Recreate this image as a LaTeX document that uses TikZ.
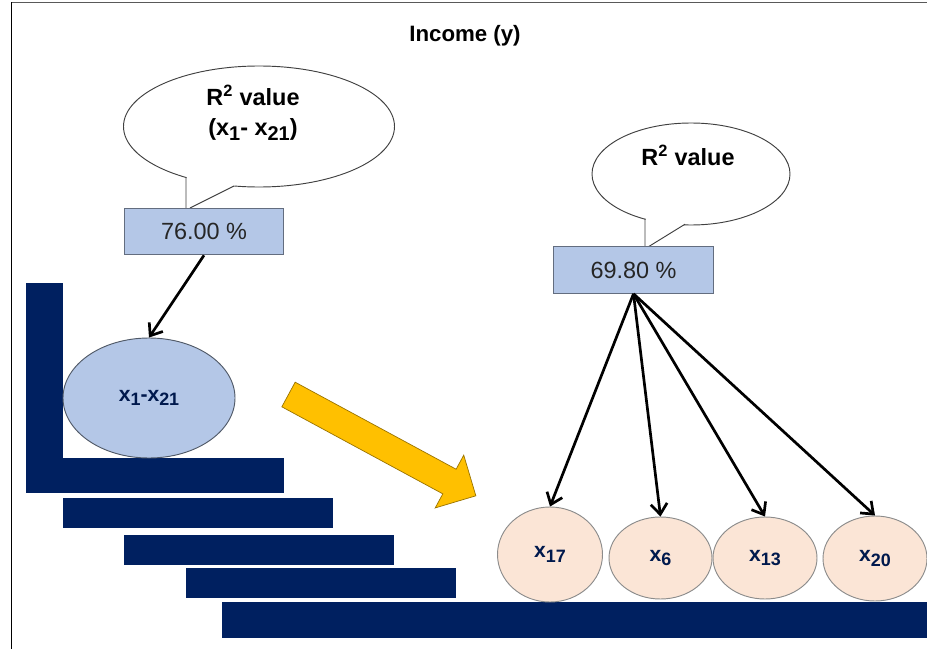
\documentclass[tikz,border=0pt]{standalone}
\usepackage{fontspec}
\setmainfont{Liberation Sans}
\usepackage{graphicx}
\usetikzlibrary{shapes.geometric, arrows.meta}
\definecolor{barblue}{HTML}{002060}
\definecolor{boxblue}{HTML}{B4C7E7}
\definecolor{peach}{HTML}{FBE5D6}
\definecolor{gold}{HTML}{FFC000}
\newcommand{\lo}[1]{\raisebox{-.4ex}{\scalebox{.85}{#1}}}

\begin{document}
\begin{tikzpicture}[x=0.03cm, y=-0.03cm, line width=.8pt,
    wert/.style={draw=boxblue!55!black, fill=boxblue, inner sep=0pt,
        minimum width=4.78cm, minimum height=1.4cm, text=black!85,
        font=\fontsize{20}{22}\selectfont},
    blase/.style={ellipse, draw=black!75, fill=white, inner sep=0pt},
    kreis/.style={ellipse, draw=black!45, fill=peach, inner sep=0pt,
        text=barblue!80!black, font=\bfseries\fontsize{18}{20}\selectfont},
    pfeil/.style={-{Straight Barb[length=9pt, width=14pt]}, line width=2.3pt}]
    \useasboundingbox (0,0) rectangle (927,649);

    % Rahmen.
    \draw[line width=1.5pt, black!65] (11,2.5) -- (927,2.5);
    \draw[line width=1pt] (11.7,2.5) -- (11.7,649);

    % Treppe.
    \foreach \xa/\ya/\xb/\yb in {26/283/63/458, 26/458/284/493, 63/498/333/528,
        124/535/394/565, 186/568/456/598, 222/602/927/638}
    {
        \fill[barblue] (\xa,\ya) rectangle (\xb,\yb);
    }

    % Titel.
    \node[font=\bfseries\fontsize{19}{21}\selectfont] (titel) at (465,36) {Income (y)};

    % Sprechblasen.
    \node[blase, minimum width=8.13cm, minimum height=3.63cm] (blaseL) at (259,126.5) {};
    \fill[white] (186.6,176) -- (186.6,208) -- (190,208) -- (235,185) -- cycle;
    \draw[black!75] (186,177.4) -- (186,208) (190,208) -- (234,186);
    \node[blase, minimum width=5.94cm, minimum height=3.06cm] (blaseR) at (691,174) {};
    \fill[white] (645.6,217) -- (645.6,247) -- (648,247) -- (686,223.4) -- cycle;
    \draw[black!75] (645,218.6) -- (645,247) (648,247) -- (685,224.2);

    \node[font=\bfseries\fontsize{20}{26}\selectfont, align=center] (textL) at (253,113)
        {R\textsuperscript{2} value\\(x\lo{1}- x\lo{21})};
    \node[font=\bfseries\fontsize{20}{26}\selectfont] (textR) at (688,155) {R\textsuperscript{2} value};

    % Werte.
    \node[wert] (wertL) at (204,231.5) {76.00 \%};
    \node[wert] (wertR) at (633.5,270) {69.80 \%};

    % Variablen.
    \node[kreis, fill=boxblue, draw=boxblue!45!black, minimum width=5.16cm,
        minimum height=3.6cm] (alle) at (149,398) {x\lo{1}-x\lo{21}};
    \draw[pfeil] (wertL.south) -- (alle.north);
    \foreach \name/\cx/\cy/\w/\h in {17/550/554.5/3.15/2.85, 6/660.5/558/3.09/2.46,
        13/765/558/3.12/2.46, 20/875/558.5/3.12/2.55}
    {
        \node[kreis, minimum width=\w cm, minimum height=\h cm] (x\name) at (\cx,\cy) {x\lo{\name}};
        \draw[pfeil] (wertR.south) -- (x\name.north);
    }

    % Gelber Pfeil.
    \begin{scope}[shift={(288.5,394.5)}, rotate=-28.4]
        \filldraw[fill=gold, draw=gold!60!black, line width=.6pt] (0,-14) -- (183,-14)
            -- (183,-30) -- (213,0) -- (183,30) -- (183,14) -- (0,14) -- cycle;
    \end{scope}
\end{tikzpicture}
\end{document}
